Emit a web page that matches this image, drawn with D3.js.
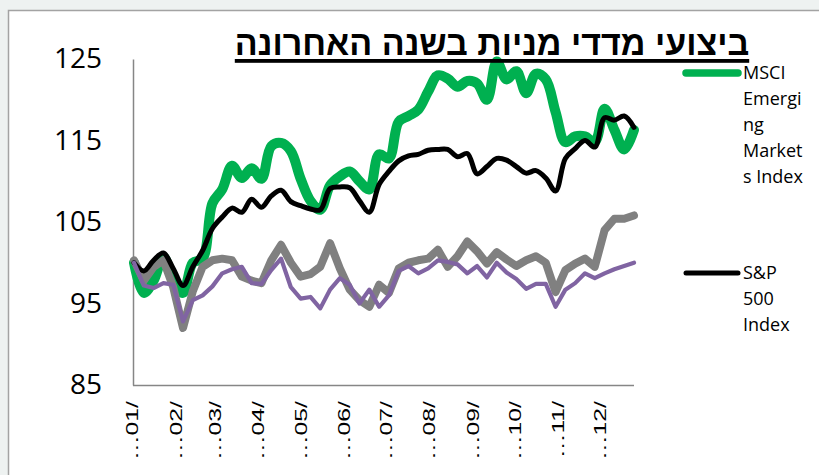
<!DOCTYPE html>
<html><head><meta charset="utf-8">
<script src="https://cdn.jsdelivr.net/npm/d3@7"></script>
<style>
body{margin:0;background:#eef2f1;}
svg{display:block}
</style>
</head><body>
<svg id="c" width="819" height="475"></svg>
<script>
const title = "ביצועי מדדי מניות בשנה האחרונה";
const startDate = new Date(2021, 0, 1);
const weeks = d3.range(52).map(i => d3.timeDay.offset(startDate, 7 * i));
const monthLabels = ["01","02","03","04","05","06","07","08","09","10","11","12"];
const yTicks = [85, 95, 105, 115, 125];
const legendMsci = ["MSCI", "Emergi", "ng", "Market", "s Index"];
const legendSp = ["S&P", "500", "Index"];

const msci = [100,96.3,97.8,100.7,98,96.3,100,100.5,107.3,109,111.9,110.4,111.6,110.3,114.3,114.7,113.7,110.3,107.6,106.5,
  109.5,110.6,111.2,110,109,113.3,112.8,117.3,118,118.8,121,123,122.6,121.6,122.3,122,120,124.7,122.5,123.5,
  120.8,123.2,122.5,118.5,114.8,115.5,115.5,114.8,118.9,116.3,113.9,116.3];
const sp500 = [100,99,100.3,101.2,99.3,97.2,99.5,101.5,104.2,105.6,106.7,106.2,107.8,106.8,108.2,108.9,107.5,107,106.6,106.5,
  109.1,109.3,109.2,107.6,106.2,109.6,111.2,112.5,113.1,113.3,113.8,113.9,113.9,113,113.4,110.9,111.8,112.8,112.6,111.8,
  111,111.3,110.4,108.8,112.8,114,115,114.2,117.8,117.5,118,116.6];
const grayIdx = [100.3,97.8,99.5,100.3,97,92,96.5,99.5,100.3,100.5,100.3,98.3,97.8,97.5,100.3,102.2,100,98.3,98.6,99.5,
  102.4,99.3,96.7,95.4,94.6,97.3,96.3,99.3,100,100.3,100.5,101.6,99.5,100.8,102.6,101.4,99.9,101.3,100.4,99.6,
  100.3,100.8,100,96.4,99.1,99.9,100.5,99.5,104,105.4,105.4,105.8];
const purpleIdx = [100,97.2,96.9,97.5,97.3,92.8,95.4,96,97.1,98.7,99.2,99.5,97.5,97.4,99.1,100.5,97,95.6,95.8,94.4,
  96.7,98.1,97.3,95,96.7,94.6,96,99,99.6,98.7,99.3,100.3,100.1,99.8,98.7,99.6,98.2,100,98.8,98,
  96.8,97.4,97.4,94.6,96.7,97.5,98.7,98.1,98.7,99.2,99.6,100];

const svg = d3.select("#c");
svg.append("rect").attr("x", 8.5).attr("y", 10.5).attr("width", 830).attr("height", 500)
  .attr("fill", "#fff").attr("stroke", "#a3a3a3").attr("stroke-width", 1.5);

const x = d3.scaleTime().domain([weeks[0], weeks[weeks.length - 1]]).range([134, 634]);
const y = d3.scaleLinear().domain([85, 125]).range([385, 59]);

const ya = svg.append("g").attr("transform", "translate(133,0)")
  .call(d3.axisLeft(y).tickValues(yTicks).tickSize(0).tickPadding(31).tickFormat(d3.format("d")));
ya.select(".domain").attr("stroke", "#868686").attr("stroke-width", 1.5);
ya.selectAll("text").attr("font-family", "'Open Sans', sans-serif").attr("font-size", 28).attr("fill", "#000");

const monthDates = monthLabels.map((m, i) => new Date(2021, i, 1));
const xa = svg.append("g").attr("transform", "translate(0,385)")
  .call(d3.axisBottom(x).tickValues(monthDates).tickSize(0).tickFormat(() => ""));
xa.select(".domain").attr("stroke", "#868686").attr("stroke-width", 1.5).attr("d", "M133,0.5H634");
xa.selectAll(".tick").each(function(d, i) {
  const g = d3.select(this);
  g.select("text").remove();
  g.append("text")
    .attr("transform", "translate(-2,16) rotate(-90) scale(1.5,1)")
    .attr("text-anchor", "end").attr("dy", "0.36em")
    .attr("font-family", "'Liberation Sans', Arial, sans-serif").attr("font-size", 16.5).attr("fill", "#000")
    .text("\u2026" + monthLabels[i] + "/");
});

const smooth = d3.line().x((d, i) => x(weeks[i])).y(d => y(d)).curve(d3.curveCatmullRom.alpha(0.5));
const straight = d3.line().x((d, i) => x(weeks[i])).y(d => y(d));
const series = [
  {data: msci, color: "#00b050", w: 10, gen: smooth},
  {data: grayIdx, color: "#808080", w: 8, gen: straight},
  {data: sp500, color: "#000000", w: 5, gen: smooth},
  {data: purpleIdx, color: "#8064a2", w: 4.2, gen: straight}
];
series.forEach(s => {
  svg.append("path").attr("d", s.gen(s.data)).attr("fill", "none")
    .attr("stroke", s.color).attr("stroke-width", s.w)
    .attr("stroke-linejoin", "round").attr("stroke-linecap", "round");
});

const t = svg.append("text").attr("x", 492).attr("y", 55).attr("text-anchor", "middle")
  .attr("direction", "rtl")
  .attr("font-family", "'Liberation Sans', Arial, sans-serif").attr("font-weight", "bold")
  .attr("font-size", 34).attr("fill", "#000").text(title);
const bb = t.node().getBBox();
svg.append("rect").attr("x", bb.x).attr("y", 59).attr("width", bb.width).attr("height", 3.8).attr("fill", "#000");

const legend = [
  {lines: legendMsci, color: "#00b050", w: 7.5, y0: 73},
  {lines: legendSp, color: "#000000", w: 5, y0: 273}
];
legend.forEach(l => {
  svg.append("line").attr("x1", 686).attr("x2", 738).attr("y1", l.y0).attr("y2", l.y0)
    .attr("stroke", l.color).attr("stroke-width", l.w).attr("stroke-linecap", "round");
  l.lines.forEach((s, k) => {
    svg.append("text").attr("x", 743).attr("y", l.y0 + k * 25.8).attr("dy", "0.35em")
      .attr("font-family", "'Open Sans', sans-serif").attr("font-size", 18).attr("fill", "#000").text(s);
  });
});
</script>
</body></html>
